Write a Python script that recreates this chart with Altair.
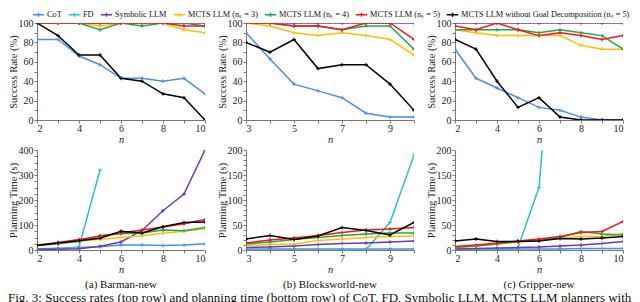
import altair as alt
import pandas as pd

METHODS = ["CoT", "FD", "Symbolic LLM", "MCTS LLM (nₛ = 3)", "MCTS LLM (nₛ = 4)",
           "MCTS LLM (nₛ = 5)", "MCTS LLM without Goal Decomposition (nₛ = 5)"]
COLORS = ["#4a8fe8", "#2ec0d2", "#7437b0", "#ffbf00", "#1fa64a", "#ff1414", "#000000"]

N_BARMAN = [2, 3, 4, 5, 6, 7, 8, 9, 10]
N_BLOCKS = [3, 4, 5, 6, 7, 8, 9, 10]
N_GRIPPER = [2, 3, 4, 5, 6, 7, 8, 9, 10]

# Success rate (%)
SR_BARMAN = {
    "CoT": [83, 83, 66, 57, 43, 43, 40, 43, 27],
    "Symbolic LLM": [100, 100, 100, 100, 100, 100, 100, 100, 100],
    "MCTS LLM (nₛ = 3)": [100, 100, 100, 97, 100, 100, 100, 93, 90],
    "MCTS LLM (nₛ = 4)": [100, 100, 100, 93, 100, 97, 100, 100, 97],
    "MCTS LLM (nₛ = 5)": [100, 100, 100, 100, 100, 100, 100, 97, 97],
    "MCTS LLM without Goal Decomposition (nₛ = 5)": [100, 87, 67, 67, 43, 40, 27, 23, 0],
}
SR_BLOCKS = {
    "CoT": [90, 63, 37, 30, 23, 7, 3, 3],
    "Symbolic LLM": [100, 100, 100, 100, 100, 100, 100, 100],
    "MCTS LLM (nₛ = 3)": [100, 97, 90, 87, 90, 87, 83, 67],
    "MCTS LLM (nₛ = 4)": [100, 100, 97, 97, 93, 97, 97, 73],
    "MCTS LLM (nₛ = 5)": [100, 100, 97, 97, 93, 100, 100, 83],
    "MCTS LLM without Goal Decomposition (nₛ = 5)": [80, 70, 83, 53, 57, 57, 37, 10],
}
SR_GRIPPER = {
    "CoT": [73, 43, 33, 23, 13, 10, 3, 0, 0],
    "Symbolic LLM": [100, 100, 100, 100, 100, 100, 100, 100, 100],
    "MCTS LLM (nₛ = 3)": [93, 90, 87, 87, 87, 87, 77, 73, 73],
    "MCTS LLM (nₛ = 4)": [93, 93, 93, 93, 90, 93, 90, 87, 73],
    "MCTS LLM (nₛ = 5)": [97, 93, 100, 93, 87, 90, 87, 83, 87],
    "MCTS LLM without Goal Decomposition (nₛ = 5)": [83, 73, 40, 13, 23, 3, 0, 0, 0],
}

# Planning time (s)
PT_BARMAN = {
    "CoT": [5, 7, 10, 13, 20, 20, 18, 20, 25],
    "FD": [2, 2, 12, 320, None, None, None, None, None],
    "Symbolic LLM": [2, 3, 5, 15, 32, 78, 157, 224, 400],
    "MCTS LLM (nₛ = 3)": [18, 25, 35, 43, 50, 57, 67, 75, 85],
    "MCTS LLM (nₛ = 4)": [18, 25, 35, 58, 65, 68, 80, 77, 90],
    "MCTS LLM (nₛ = 5)": [20, 30, 42, 55, 68, 80, 92, 105, 122],
    "MCTS LLM without Goal Decomposition (nₛ = 5)": [18, 28, 37, 47, 75, 68, 93, 110, 112],
}
PT_BLOCKS = {
    "CoT": [2, 2, 2, 2, 2, 2, 2, 2],
    "FD": [0, 0, 0, 0, 0, 1, 55, 190],
    "Symbolic LLM": [5, 6, 8, 11, 13, 14, 16, 18],
    "MCTS LLM (nₛ = 3)": [9, 11, 12, 19, 22, 25, 27, 28],
    "MCTS LLM (nₛ = 4)": [12, 16, 21, 25, 29, 32, 34, 34],
    "MCTS LLM (nₛ = 5)": [14, 20, 24, 29, 35, 40, 42, 45],
    "MCTS LLM without Goal Decomposition (nₛ = 5)": [22, 29, 21, 28, 45, 39, 30, 55],
}
PT_GRIPPER = {
    "CoT": [2, 2, 2, 2, 2, 2, 3, 3, 3],
    "FD": [0, 0, 0, 5, 125, 640, None, None, None],
    "Symbolic LLM": [2, 3, 4, 5, 6, 8, 10, 13, 17],
    "MCTS LLM (nₛ = 3)": [5, 8, 12, 16, 20, 23, 27, 27, 33],
    "MCTS LLM (nₛ = 4)": [5, 8, 12, 17, 20, 25, 37, 32, 30],
    "MCTS LLM (nₛ = 5)": [7, 10, 14, 18, 22, 27, 35, 37, 57],
    "MCTS LLM without Goal Decomposition (nₛ = 5)": [18, 22, 17, 17, 18, 23, 22, 24, 27],
}

CAPTIONS = ["(a) Barman-new", "(b) Blocksworld-new", "(c) Gripper-new"]
FIG_CAPTION = ("Fig. 3: Success rates (top row) and planning time (bottom row) of CoT, FD, "
               "Symbolic LLM, MCTS LLM planners with")

SERIF = "Liberation Serif"
PLUS = "M-1,0H1M0,-1V1"
LEGEND_SYMBOL = "M-1,0H1M0,-0.35V0.35"


def to_frame(ns, series):
    rows = []
    for k, m in enumerate(METHODS):
        if m not in series:
            continue
        for n, v in zip(ns, series[m]):
            if v is None:
                continue
            rows.append({"n": n, "value": v, "method": m, "k": k})
    return pd.DataFrame(rows)


def panel(ns, series, ymax, ystep, ylabel_step, ytitle, width, height, caption=None):
    df = to_frame(ns, series)
    x0 = ns[0]
    xvals = list(range(x0, 11))
    yvals = list(range(0, ymax + 1, ystep))
    x = alt.X("n:Q", scale=alt.Scale(domain=[x0, 10], nice=False, zero=False),
              axis=alt.Axis(values=xvals, title="n", titleFontStyle="italic",
                            labelExpr=f"(datum.value - {x0}) % 2 == 0 ? datum.label : ''",
                            titlePadding=1, labelPadding=0))
    y = alt.Y("value:Q", scale=alt.Scale(domain=[0, ymax], nice=False),
              axis=alt.Axis(values=yvals, title=ytitle,
                            labelExpr=f"datum.value % {ylabel_step} == 0 ? datum.label : ''",
                            titlePadding=0, labelPadding=1))
    color = alt.Color("method:N", scale=alt.Scale(domain=METHODS, range=COLORS),
                      legend=alt.Legend(title=None))
    base = alt.Chart(df)
    line = base.mark_line(strokeWidth=1.5, clip=True).encode(
        x=x, y=y, color=color, order="n:Q")
    pts = base.mark_point(shape=PLUS, size=14, strokeWidth=1, filled=False, clip=True,
                          opacity=1).encode(
        x=x, y=y, color=alt.Color("method:N", scale=alt.Scale(domain=METHODS, range=COLORS),
                                  legend=None))
    ch = alt.layer(line, pts).properties(width=width, height=height)
    if caption:
        ch = ch.properties(title=alt.TitleParams(caption, orient="bottom", font=SERIF,
                                                 fontSize=11, fontWeight="normal",
                                                 offset=4, color="#111"))
    return ch


W = 168
c1 = panel(N_BARMAN, SR_BARMAN, 100, 10, 20, "Success Rate (%)", W, 97)
c2 = panel(N_BLOCKS, SR_BLOCKS, 100, 10, 20, "Success Rate (%)", W, 97)
c3 = panel(N_GRIPPER, SR_GRIPPER, 100, 10, 20, "Success Rate (%)", W, 97)
c4 = panel(N_BARMAN, PT_BARMAN, 400, 25, 100, "Planning Time (s)", W, 100, CAPTIONS[0])
c5 = panel(N_BLOCKS, PT_BLOCKS, 200, 10, 50, "Planning Time (s)", W, 100, CAPTIONS[1])
c6 = panel(N_GRIPPER, PT_GRIPPER, 200, 10, 50, "Planning Time (s)", W, 100, CAPTIONS[2])

chart = alt.concat(c1, c2, c3, c4, c5, c6, columns=3,
                   spacing={"row": 30, "column": 41}, bounds="flush").properties(
    title=alt.TitleParams(FIG_CAPTION, orient="bottom", anchor="start", font=SERIF,
                          fontSize=13, fontWeight="normal", offset=2, color="#111"),
    padding={"left": 0, "top": 0, "right": 0, "bottom": 0},
).configure_view(stroke=None).configure_axis(
    grid=False, domainColor="#777", tickColor="#777", tickSize=3,
    labelFont=SERIF, labelFontSize=10, labelColor="#222",
    titleFont=SERIF, titleFontSize=10.5, titleFontWeight="normal", titleColor="#222",
).configure_legend(
    orient="none", legendX=-5, legendY=-15, direction="horizontal", columns=7,
    symbolType=LEGEND_SYMBOL, symbolSize=130, symbolStrokeWidth=1.5,
    labelFont=SERIF, labelFontSize=8.3, labelColor="#111", columnPadding=3,
    labelOffset=2, labelLimit=300,
)

chart.save("out.html", embed_options={"renderer": "svg", "actions": False})
